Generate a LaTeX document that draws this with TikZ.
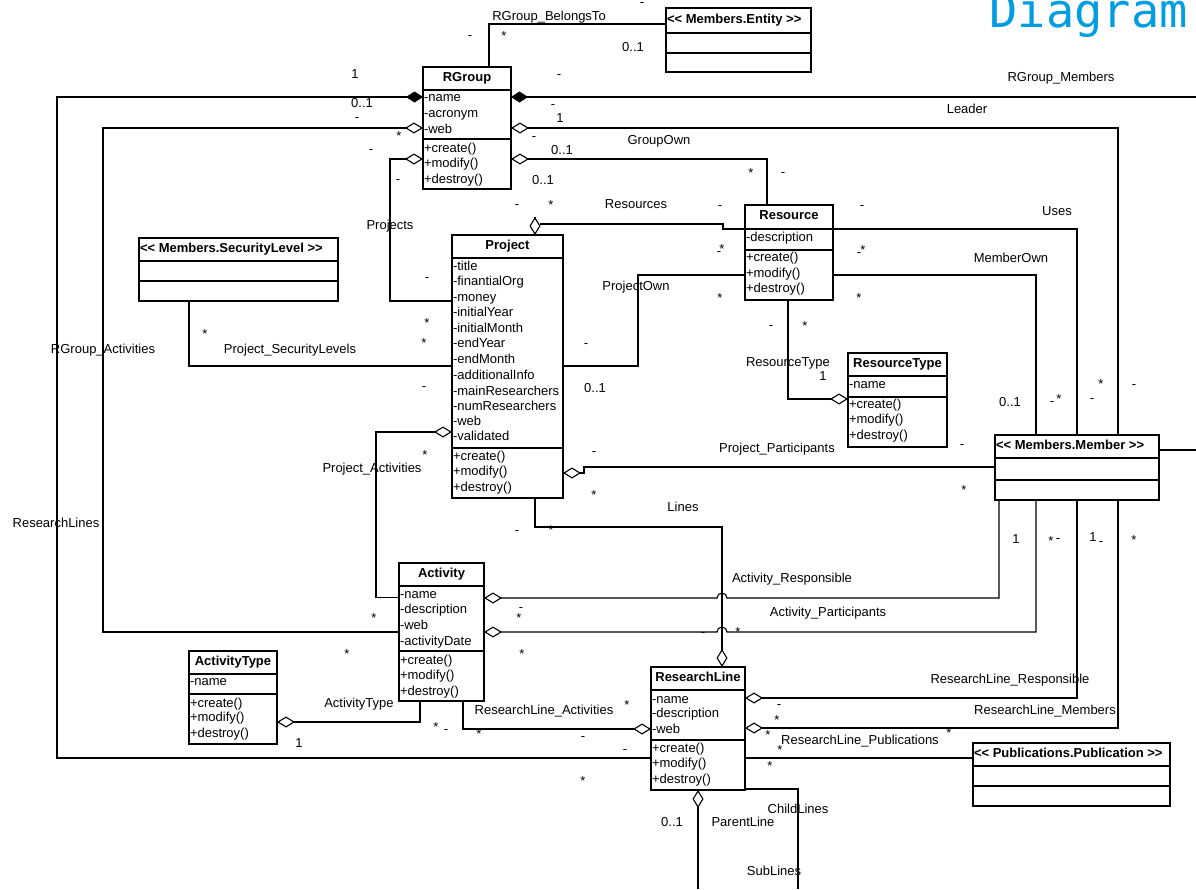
\documentclass[tikz,border=0pt]{standalone}
\usepackage{fontspec}
\setmainfont{Liberation Sans}
\newfontfamily\titlefont{DejaVu Sans Mono}
\usetikzlibrary{arrows.meta}
\definecolor{titleblue}{RGB}{0,157,224}
\begin{document}
\begin{tikzpicture}[x=1pt,y=-1pt,line width=1.1pt,
  box/.style={draw,line width=1.1pt,inner sep=0pt,outer sep=0pt},
  txt/.style={font=\fontsize{13}{15}\selectfont,inner sep=0pt,outer sep=0pt,text height=9.5pt,text depth=2.5pt},
  att/.style={txt,anchor=west,xshift=1pt},
  hdr/.style={txt,font=\bfseries\fontsize{13}{15}\selectfont},
  shdr/.style={hdr,anchor=west,xshift=1pt},
  lb/.style={txt,yshift=-1pt},
  ds/.style={txt},
  st/.style={txt,yshift=-4pt},
  aggst/.style={{Diamond[open,length=18pt,width=11pt]}-},
  aggen/.style={-{Diamond[open,length=18pt,width=11pt]}},
  compst/.style={{Diamond[length=17pt,width=11pt]}-}]
\clip (0,0) rectangle (1196,889);
% title
\node[anchor=base west,inner sep=0pt,font=\titlefont\fontsize{47}{47}\selectfont,text=titleblue] (ttl) at (989,27) {Diagram};
% ---------- classes ----------
\node[box,minimum width=88pt,minimum height=122pt] (rg) at (467,128) {};
\draw (rg.west |- 0,90) -- (rg.east |- 0,90);
\draw (rg.west |- 0,139) -- (rg.east |- 0,139);
\node[hdr] (rgh) at (rg.north |- 0,78) {RGroup};
\node[att] (rga1) at (rg.west |- 0,98) {-name};
\node[att] (rga2) at (rg.west |- 0,114) {-acronym};
\node[att] (rga3) at (rg.west |- 0,130) {-web};
\node[att] (rgm1) at (rg.west |- 0,149) {+create()};
\node[att] (rgm2) at (rg.west |- 0,164) {+modify()};
\node[att] (rgm3) at (rg.west |- 0,180) {+destroy()};

\node[box,minimum width=145pt,minimum height=64pt] (ent) at (738.5,40) {};
\draw (ent.west |- 0,33) -- (ent.east |- 0,33);
\draw (ent.west |- 0,53) -- (ent.east |- 0,53);
\node[shdr] (enth) at (ent.west |- 0,20) {<\kern0pt< Members.Entity >\kern0pt>};

\node[box,minimum width=88pt,minimum height=95pt] (res) at (789,252.5) {};
\draw (res.west |- 0,229) -- (res.east |- 0,229);
\draw (res.west |- 0,250) -- (res.east |- 0,250);
\node[hdr] (resh) at (res.north |- 0,216) {Resource};
\node[att] (resa1) at (res.west |- 0,238) {-description};
\node[att] (resm1) at (res.west |- 0,258) {+create()};
\node[att] (resm2) at (res.west |- 0,274) {+modify()};
\node[att] (resm3) at (res.west |- 0,289) {+destroy()};

\node[box,minimum width=99pt,minimum height=94pt] (rt) at (897.5,400) {};
\draw (rt.west |- 0,376) -- (rt.east |- 0,376);
\draw (rt.west |- 0,397) -- (rt.east |- 0,397);
\node[hdr] (rth) at (rt.north |- 0,364) {ResourceType};
\node[att] (rta1) at (rt.west |- 0,385) {-name};
\node[att] (rtm1) at (rt.west |- 0,405) {+create()};
\node[att] (rtm2) at (rt.west |- 0,420) {+modify()};
\node[att] (rtm3) at (rt.west |- 0,436) {+destroy()};

\node[box,minimum width=111pt,minimum height=263pt] (pr) at (507.5,366.5) {};
\draw (pr.west |- 0,258) -- (pr.east |- 0,258);
\draw (pr.west |- 0,448) -- (pr.east |- 0,448);
\node[hdr] (prh) at (pr.north |- 0,246) {Project};
\node[att] (pra1) at (pr.west |- 0,267) {-title};
\node[att] (pra2) at (pr.west |- 0,282) {-finantialOrg};
\node[att] (pra3) at (pr.west |- 0,298) {-money};
\node[att] (pra4) at (pr.west |- 0,313) {-initialYear};
\node[att] (pra5) at (pr.west |- 0,329) {-initialMonth};
\node[att] (pra6) at (pr.west |- 0,344) {-endYear};
\node[att] (pra7) at (pr.west |- 0,360) {-endMonth};
\node[att] (pra8) at (pr.west |- 0,376) {-additionalInfo};
\node[att] (pra9) at (pr.west |- 0,392) {-mainResearchers};
\node[att] (pra10) at (pr.west |- 0,407) {-numResearchers};
\node[att] (pra11) at (pr.west |- 0,422) {-web};
\node[att] (pra12) at (pr.west |- 0,437) {-validated};
\node[att] (prm1) at (pr.west |- 0,457) {+create()};
\node[att] (prm2) at (pr.west |- 0,472) {+modify()};
\node[att] (prm3) at (pr.west |- 0,488) {+destroy()};

\node[box,minimum width=199pt,minimum height=63pt] (sl) at (238.5,269.5) {};
\draw (sl.west |- 0,261) -- (sl.east |- 0,261);
\draw (sl.west |- 0,281) -- (sl.east |- 0,281);
\node[shdr] (slh) at (sl.west |- 0,249) {<\kern0pt< Members.SecurityLevel >\kern0pt>};

\node[box,minimum width=85pt,minimum height=138pt] (act) at (441.5,632) {};
\draw (act.west |- 0,586) -- (act.east |- 0,586);
\draw (act.west |- 0,651) -- (act.east |- 0,651);
\node[hdr] (acth) at (act.north |- 0,574) {Activity};
\node[att] (acta1) at (act.west |- 0,595) {-name};
\node[att] (acta2) at (act.west |- 0,610) {-description};
\node[att] (acta3) at (act.west |- 0,626) {-web};
\node[att] (acta4) at (act.west |- 0,642) {-activityDate};
\node[att] (actm1) at (act.west |- 0,661) {+create()};
\node[att] (actm2) at (act.west |- 0,676) {+modify()};
\node[att] (actm3) at (act.west |- 0,692) {+destroy()};

\node[box,minimum width=88pt,minimum height=93pt] (atype) at (233,697.5) {};
\draw (atype.west |- 0,674) -- (atype.east |- 0,674);
\draw (atype.west |- 0,694) -- (atype.east |- 0,694);
\node[hdr] (atypeh) at (atype.north |- 0,662) {ActivityType};
\node[att] (atypea1) at (atype.west |- 0,682) {-name};
\node[att] (atypem1) at (atype.west |- 0,704) {+create()};
\node[att] (atypem2) at (atype.west |- 0,718) {+modify()};
\node[att] (atypem3) at (atype.west |- 0,734) {+destroy()};

\node[box,minimum width=94pt,minimum height=123pt] (rl) at (698,728.5) {};
\draw (rl.west |- 0,690) -- (rl.east |- 0,690);
\draw (rl.west |- 0,740) -- (rl.east |- 0,740);
\node[hdr] (rlh) at (rl.north |- 0,678) {ResearchLine};
\node[att] (rla1) at (rl.west |- 0,700) {-name};
\node[att] (rla2) at (rl.west |- 0,714) {-description};
\node[att] (rla3) at (rl.west |- 0,730) {-web};
\node[att] (rlm1) at (rl.west |- 0,749) {+create()};
\node[att] (rlm2) at (rl.west |- 0,764) {+modify()};
\node[att] (rlm3) at (rl.west |- 0,780) {+destroy()};

\node[box,minimum width=164pt,minimum height=65pt] (mem) at (1077,467.5) {};
\draw (mem.west |- 0,458) -- (mem.east |- 0,458);
\draw (mem.west |- 0,480) -- (mem.east |- 0,480);
\node[shdr] (memh) at (mem.west |- 0,446) {<\kern0pt< Members.Member >\kern0pt>};

\node[box,minimum width=197pt,minimum height=63pt] (pub) at (1071.5,774.5) {};
\draw (pub.west |- 0,766) -- (pub.east |- 0,766);
\draw (pub.west |- 0,786) -- (pub.east |- 0,786);
\node[shdr] (pubh) at (pub.west |- 0,754) {<\kern0pt< Publications.Publication >\kern0pt>};

% free ends at the picture edge
\coordinate (eRM) at (1196,97);
\coordinate (eMR) at (1196,450);
\coordinate (eSub) at (698,889);
\coordinate (eChild) at (798,889);
\coordinate (resD) at (540,224);

% ---------- connectors ----------
\draw (rg.north -| 489,0) |- (ent.west |- 0,24);
\draw[compst] (rg.west |- 0,97) -| (57,758) -- (rl.west |- 0,758);
\draw[compst] (rg.east |- 0,97) -- (eRM);
\draw[aggst] (rg.west |- 0,128) -| (103,632) -- (act.west |- 0,632);
\draw[aggst] (rg.east |- 0,128) -| (mem.north -| 1118,0);
\draw[aggst] (rg.west |- 0,159) -| (390,301) -- (pr.west |- 0,301);
\draw[aggst] (rg.east |- 0,159) -| (res.north -| 767,0);
\draw[aggst] (pr.north -| 535,0) -- (535,217);
\draw (resD) -- (723,224) -- (723,229) -- (res.west |- 0,229);
\draw (res.east |- 0,229) -| (mem.north -| 1077,0);
\draw (pr.east |- 0,366) -| (638,275) -- (res.west |- 0,275);
\draw (res.east |- 0,275) -| (mem.north -| 1036,0);
\draw[aggen] (res.south -| 788,0) |- (rt.west |- 0,399);
\draw (sl.south -| 189,0) |- (pr.west |- 0,366);
\draw[aggst] (pr.west |- 0,432) -| (376,597.5) -- (act.west |- 0,597.5);
\draw[aggst] (pr.east |- 0,473) -- (584,473) -- (584,467) -- (mem.west |- 0,467);
\draw[aggen] (pr.south -| 535,0) |- (722,527) -- (rl.north -| 722,0);
\draw[aggst] (act.east |- 0,598) -- (717,598) arc (180:360:5) -| (mem.south -| 999,0);
\draw[aggst] (act.east |- 0,632) -- (717,632) arc (180:360:5) -| (mem.south -| 1036,0);
\draw[aggen] (act.south -| 463,0) |- (rl.west |- 0,729);
\draw[aggen] (act.south -| 420,0) |- (atype.east |- 0,722);
\draw[aggst] (rl.east |- 0,698) -| (mem.south -| 1077,0);
\draw[aggst] (rl.east |- 0,728) -| (mem.south -| 1118,0);
\draw (rl.east |- 0,758) -- (pub.west |- 0,758);
\draw[aggst] (rl.south -| 698,0) -- (eSub);
\draw (rl.east |- 0,789) -| (eChild);
\draw (mem.east |- 0,450) -- (eMR);

% ---------- connector labels ----------
\node[lb] (t1) at (549,16) {RGroup\_BelongsTo};
\node[lb] (t2) at (633,47) {0..1};
\node[lb] (t3) at (355,74) {1};
\node[lb] (t4) at (362,103) {0..1};
\node[lb] (t5) at (1061,77) {RGroup\_Members};
\node[lb] (t6) at (967,109) {Leader};
\node[lb] (t7) at (560,118) {1};
\node[lb] (t8) at (659,140) {GroupOwn};
\node[lb] (t9) at (562,150) {0..1};
\node[lb] (t10) at (543,180) {0..1};
\node[lb] (t11) at (390,225) {Projects};
\node[lb] (t12) at (636,204) {Resources};
\node[lb] (t13) at (1057,211) {Uses};
\node[lb] (t14) at (1011,258) {MemberOwn};
\node[lb] (t15) at (636,286) {ProjectOwn};
\node[lb] (t16) at (290,349) {Project\_SecurityLevels};
\node[lb] (t17) at (103,349) {RGroup\_Activities};
\node[lb] (t18) at (788,362) {ResourceType};
\node[lb] (t19) at (823,376) {1};
\node[lb] (t20) at (595,388) {0..1};
\node[lb] (t21) at (1010,402) {0..1};
\node[lb] (t22) at (777,448) {Project\_Participants};
\node[lb] (t23) at (372,468) {Project\_Activities};
\node[lb] (t24) at (683,507) {Lines};
\node[lb] (t25) at (56,523) {ResearchLines};
\node[lb] (t26) at (1016,539) {1};
\node[lb] (t27) at (1093,537) {1};
\node[lb] (t28) at (792,578) {Activity\_Responsible};
\node[lb] (t29) at (828,612) {Activity\_Participants};
\node[lb] (t30) at (1010,679) {ResearchLine\_Responsible};
\node[lb] (t31) at (359,703) {ActivityType};
\node[lb] (t32) at (544,710) {ResearchLine\_Activities};
\node[lb] (t33) at (1045,710) {ResearchLine\_Members};
\node[lb] (t34) at (860,740) {ResearchLine\_Publications};
\node[lb] (t35) at (299,743) {1};
\node[lb] (t36) at (798,809) {ChildLines};
\node[lb] (t37) at (672,822) {0..1};
\node[lb] (t38) at (743,822) {ParentLine};
\node[lb] (t39) at (774,871) {SubLines};
% dashes
\node[ds] (d1) at (470,36) {-};
\node[ds] (d2) at (642,3) {-};
\node[ds] (d3) at (559,75) {-};
\node[ds] (d4) at (553,105) {-};
\node[ds] (d5) at (357,118) {-};
\node[ds] (d6) at (534,137) {-};
\node[ds] (d7) at (371,150) {-};
\node[ds] (d8) at (783,173) {-};
\node[ds] (d9) at (398,180) {-};
\node[ds] (d10) at (517,205) {-};
\node[ds] (d11) at (720,206) {-};
\node[ds] (d12) at (862,206) {-};
\node[ds] (d13) at (719,252) {-};
\node[ds] (d14) at (859,253) {-};
\node[ds] (d15) at (427,278) {-};
\node[ds] (d16) at (586,344) {-};
\node[ds] (d17) at (771,326) {-};
\node[ds] (d18) at (424,387) {-};
\node[ds] (d19) at (1052,402) {-};
\node[ds] (d20) at (1092,399) {-};
\node[ds] (d21) at (1134,385) {-};
\node[ds] (d22) at (962,445) {-};
\node[ds] (d23) at (594,452) {-};
\node[ds] (d24) at (517,531) {-};
\node[ds] (d25) at (1058,539) {-};
\node[ds] (d26) at (1101,542) {-};
\node[ds] (d27) at (521,608) {-};
\node[ds] (d28) at (703,633) {-};
\node[ds] (d29) at (779,705) {-};
\node[ds] (d30) at (446,730) {-};
\node[ds] (d31) at (583,737) {-};
\node[ds] (d32) at (625,750) {-};
% stars
\node[st] (s1) at (504,33) {*};
\node[st] (s2) at (399,133) {*};
\node[st] (s3) at (751,170) {*};
\node[st] (s4) at (551,202) {*};
\node[st] (s5) at (722,246) {*};
\node[st] (s6) at (863,247) {*};
\node[st] (s7) at (720,295) {*};
\node[st] (s8) at (859,295) {*};
\node[st] (s9) at (805,323) {*};
\node[st] (s10) at (205,331) {*};
\node[st] (s11) at (427,320) {*};
\node[st] (s12) at (424,340) {*};
\node[st] (s13) at (1059,396) {*};
\node[st] (s14) at (1101,381) {*};
\node[st] (s15) at (964,487) {*};
\node[st] (s16) at (594,492) {*};
\node[st] (s17) at (425,452) {*};
\node[st] (s18) at (551,527) {*};
\node[st] (s19) at (1051,538) {*};
\node[st] (s20) at (1134,537) {*};
\node[st] (s21) at (519,615) {*};
\node[st] (s22) at (374,615) {*};
\node[st] (s23) at (738,629) {*};
\node[st] (s24) at (522,651) {*};
\node[st] (s25) at (347,651) {*};
\node[st] (s26) at (627,702) {*};
\node[st] (s27) at (777,717) {*};
\node[st] (s28) at (436,724) {*};
\node[st] (s29) at (479,731) {*};
\node[st] (s30) at (768,732) {*};
\node[st] (s31) at (949,730) {*};
\node[st] (s32) at (780,747) {*};
\node[st] (s33) at (770,763) {*};
\node[st] (s34) at (583,778) {*};
\end{tikzpicture}
\end{document}
